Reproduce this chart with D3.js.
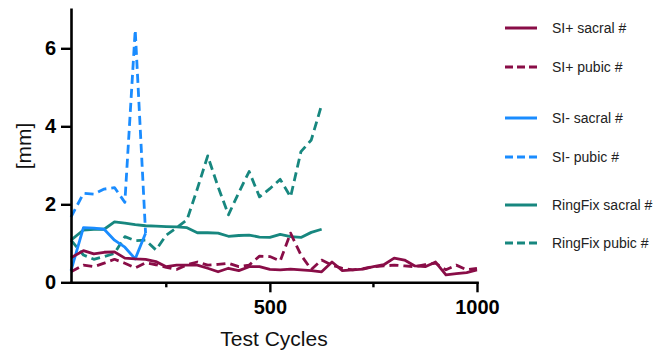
<!DOCTYPE html>
<html>
<head>
<meta charset="utf-8">
<script src="https://cdn.jsdelivr.net/npm/d3@7"></script>
<style>
  body { margin: 0; background: #fff; }
  svg text { font-family: "Liberation Sans", Arial, Helvetica, sans-serif; }
</style>
</head>
<body>
<div id="chart"></div>
<script>
// cycles at which each group was measured
const cyclesSIplus = [20, 50, 75, 100, 125, 150, 175, 200, 225, 250, 275, 300, 325, 350, 375, 400,
  425, 450, 475, 500, 525, 550, 575, 600, 625, 650, 675, 700, 725, 750, 775, 800, 825, 850, 875,
  900, 925, 950, 975, 1000];
const cyclesSIminus = [20, 50, 75, 100, 125, 150, 175, 200];
const cyclesRingFix = [20, 50, 75, 100, 125, 150, 175, 200, 225, 250, 275, 300, 325, 350, 375,
  400, 425, 450, 475, 500, 525, 550, 575, 600, 625];

// displacement [mm]
const siPlusSacral = [0.63, 0.81, 0.73, 0.77, 0.78, 0.62, 0.60, 0.59, 0.53, 0.40, 0.44, 0.44, 0.44,
  0.36, 0.27, 0.36, 0.30, 0.40, 0.40, 0.33, 0.32, 0.34, 0.32, 0.30, 0.27, 0.52, 0.30, 0.32, 0.34,
  0.40, 0.45, 0.62, 0.57, 0.42, 0.40, 0.52, 0.19, 0.22, 0.25, 0.32];
const siPlusPubic = [0.27, 0.44, 0.40, 0.49, 0.59, 0.49, 0.37, 0.50, 0.45, 0.38, 0.33, 0.45, 0.52,
  0.44, 0.46, 0.49, 0.40, 0.44, 0.67, 0.66, 0.55, 1.26, 0.70, 0.33, 0.57, 0.44, 0.36, 0.32, 0.35,
  0.40, 0.42, 0.44, 0.42, 0.40, 0.45, 0.49, 0.32, 0.44, 0.32, 0.36];
const siMinusSacral = [0.30, 1.40, 1.39, 1.36, 1.08, 0.90, 0.60, 1.26];
const siMinusPubic = [1.67, 2.28, 2.26, 2.39, 2.43, 2.05, 6.47, 1.26];
const ringFixSacral = [1.08, 1.34, 1.36, 1.36, 1.55, 1.52, 1.48, 1.45, 1.44, 1.43, 1.42, 1.40, 1.27,
  1.27, 1.26, 1.18, 1.20, 1.21, 1.16, 1.15, 1.23, 1.17, 1.15, 1.28, 1.36];
const ringFixPubic = [1.08, 0.70, 0.59, 0.66, 0.74, 1.17, 1.07, 1.08, 0.83, 1.21, 1.40, 1.60, 2.40,
  3.24, 2.45, 1.73, 2.30, 2.84, 2.19, 2.40, 2.64, 2.19, 3.35, 3.65, 4.55];

const seriesNames = ["SI+ sacral #", "SI+ pubic #", "SI- sacral #", "SI- pubic #",
  "RingFix sacral #", "RingFix pubic #"];

const yTicks = [0, 2, 4, 6];
const xTicks = [500, 1000];
const xMinorTicks = [250, 750];

const maroon = "#890d47", blue = "#1a8cff", teal = "#17877f";

const series = [
  { name: seriesNames[0], x: cyclesSIplus, y: siPlusSacral, color: maroon, dashed: false },
  { name: seriesNames[1], x: cyclesSIplus, y: siPlusPubic, color: maroon, dashed: true },
  { name: seriesNames[2], x: cyclesSIminus, y: siMinusSacral, color: blue, dashed: false },
  { name: seriesNames[3], x: cyclesSIminus, y: siMinusPubic, color: blue, dashed: true },
  { name: seriesNames[4], x: cyclesRingFix, y: ringFixSacral, color: teal, dashed: false },
  { name: seriesNames[5], x: cyclesRingFix, y: ringFixPubic, color: teal, dashed: true }
];

const width = 654, height = 352;
const font = "'Liberation Sans', Arial, sans-serif";

const svg = d3.select("#chart")
  .append("svg")
  .attr("width", width)
  .attr("height", height)
  .attr("font-family", font);

const x = d3.scaleLinear().domain([20, 1000]).range([71, 477]);
const y = d3.scaleLinear().domain([0, 7]).range([282.3, 9.3]);

const line = d3.line()
  .x(d => x(d[0]))
  .y(d => y(d[1]));

// lines (RingFix underneath, SI+ on top)
svg.append("g")
  .selectAll("path")
  .data(series.slice().reverse())
  .enter()
  .append("path")
  .attr("fill", "none")
  .attr("stroke", d => d.color)
  .attr("stroke-width", 2.8)
  .attr("stroke-linejoin", "round")
  .attr("stroke-dasharray", d => d.dashed ? "9,5" : null)
  .attr("d", d => line(d.x.map((c, i) => [c, d.y[i]])));

// y axis
const yAxis = svg.append("g")
  .attr("transform", "translate(71,0)")
  .call(d3.axisLeft(y).tickValues(yTicks).tickFormat(d3.format("d"))
    .tickSize(10).tickSizeOuter(0).tickPadding(5));

// x axis
const xAxis = svg.append("g")
  .attr("transform", "translate(0,282.3)")
  .call(d3.axisBottom(x).tickValues(xTicks).tickFormat(d3.format("d"))
    .tickSize(10).tickSizeOuter(0).tickPadding(8));

xAxis.selectAll(".minor")
  .data(xMinorTicks)
  .enter()
  .append("line")
  .attr("class", "minor")
  .attr("x1", d => x(d)).attr("x2", d => x(d))
  .attr("y1", 0).attr("y2", 5)
  .attr("stroke", "#000");

[yAxis, xAxis].forEach(a => {
  a.attr("font-family", font);
  a.select(".domain").attr("stroke", "#000").attr("stroke-width", 2.6).attr("stroke-linecap", "square");
  a.selectAll("line").attr("stroke", "#000").attr("stroke-width", 2.4);
  a.selectAll("text")
    .attr("fill", "#000")
    .attr("font-size", 20)
    .attr("font-weight", "bold");
});

// axis titles
svg.append("text")
  .attr("x", 274)
  .attr("y", 346)
  .attr("text-anchor", "middle")
  .attr("font-size", 21)
  .attr("fill", "#111")
  .text("Test Cycles");

svg.append("text")
  .attr("transform", "translate(31,146) rotate(-90)")
  .attr("text-anchor", "middle")
  .attr("font-size", 21)
  .attr("fill", "#111")
  .text("[mm]");

// legend
const legendY = [28, 67, 118, 157, 205, 243];
const legend = svg.append("g")
  .selectAll("g")
  .data(series)
  .enter()
  .append("g")
  .attr("transform", (d, i) => "translate(505," + legendY[i] + ")");

legend.append("line")
  .attr("x1", 0).attr("x2", 32)
  .attr("stroke", d => d.color)
  .attr("stroke-width", 3)
  .attr("stroke-dasharray", d => d.dashed ? "8,4" : null);

legend.append("text")
  .attr("x", 47)
  .attr("dy", "0.36em")
  .attr("font-size", 14)
  .attr("fill", "#222")
  .text(d => d.name);
</script>
</body>
</html>
